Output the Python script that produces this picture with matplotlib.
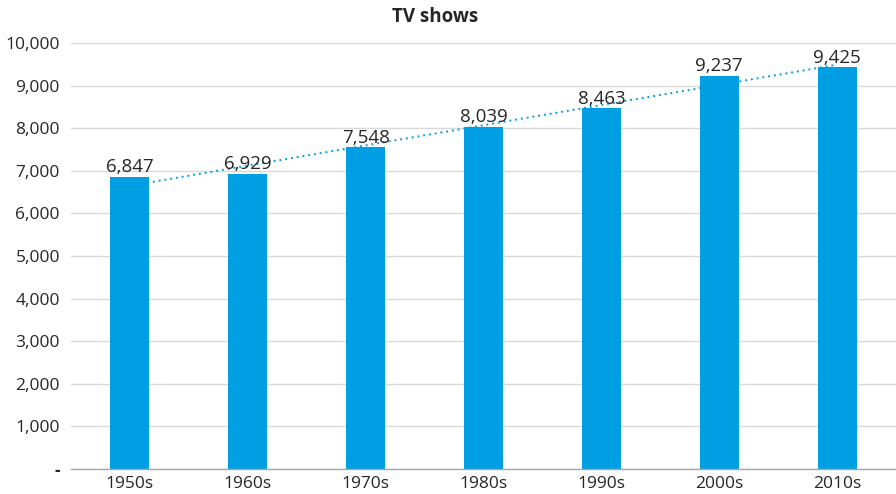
import matplotlib.pyplot as plt
import numpy as np

plt.rcParams['font.family'] = ['Open Sans', 'DejaVu Sans']

BLUE = '#009fe3'
GRID = '#d9d9d9'
TEXT = '#262626'

decades = ['1950s', '1960s', '1970s', '1980s', '1990s', '2000s', '2010s']
shows = [6847, 6929, 7548, 8039, 8463, 9237, 9425]
yticks = [0, 1000, 2000, 3000, 4000, 5000, 6000, 7000, 8000, 9000, 10000]

fig = plt.figure(figsize=(8.96, 4.94), dpi=100)
ax = fig.add_axes([71 / 896, 25 / 494, 825 / 896, 426 / 494])

x = np.arange(len(decades))

# linear trend, sits behind the bars
slope, icept = np.polyfit(x, shows, 1)
ax.plot(x, slope * x + icept, color=BLUE, lw=1.4, ls=(0, (1, 2.0)), zorder=1)

ax.bar(x, shows, width=0.33, color=BLUE, zorder=2)
for xi, v in zip(x, shows):
    ax.text(xi, v + 20, f'{v:,}', ha='center', va='bottom', fontsize=13.5,
            color=TEXT, zorder=3)

ax.set_xlim(-0.5, len(decades) - 0.5)
ax.set_ylim(0, 10000)
ax.set_yticks(yticks)
ax.set_yticklabels(['-' if t == 0 else f'{t:,}' for t in yticks])
ax.set_xticks(x)
ax.set_xticklabels(decades)
ax.tick_params(axis='both', length=0, labelsize=12.5, colors=TEXT)
ax.tick_params(axis='y', pad=8)
ax.tick_params(axis='x', pad=5)
ax.get_yticklabels()[0].set_fontweight('bold')

ax.grid(axis='y', color=GRID, lw=1, zorder=0)
ax.set_axisbelow(True)
for side in ['top', 'right', 'left']:
    ax.spines[side].set_visible(False)
ax.spines['bottom'].set_color('#a6a6a6')
ax.spines['bottom'].set_linewidth(1)
ax.spines['bottom'].set_zorder(4)

fig.text(435 / 896, 1 - 17 / 494, 'TV shows', ha='center', va='center',
         fontsize=13.5, fontweight='bold', color=TEXT)

fig.savefig('out.png', dpi=100)
